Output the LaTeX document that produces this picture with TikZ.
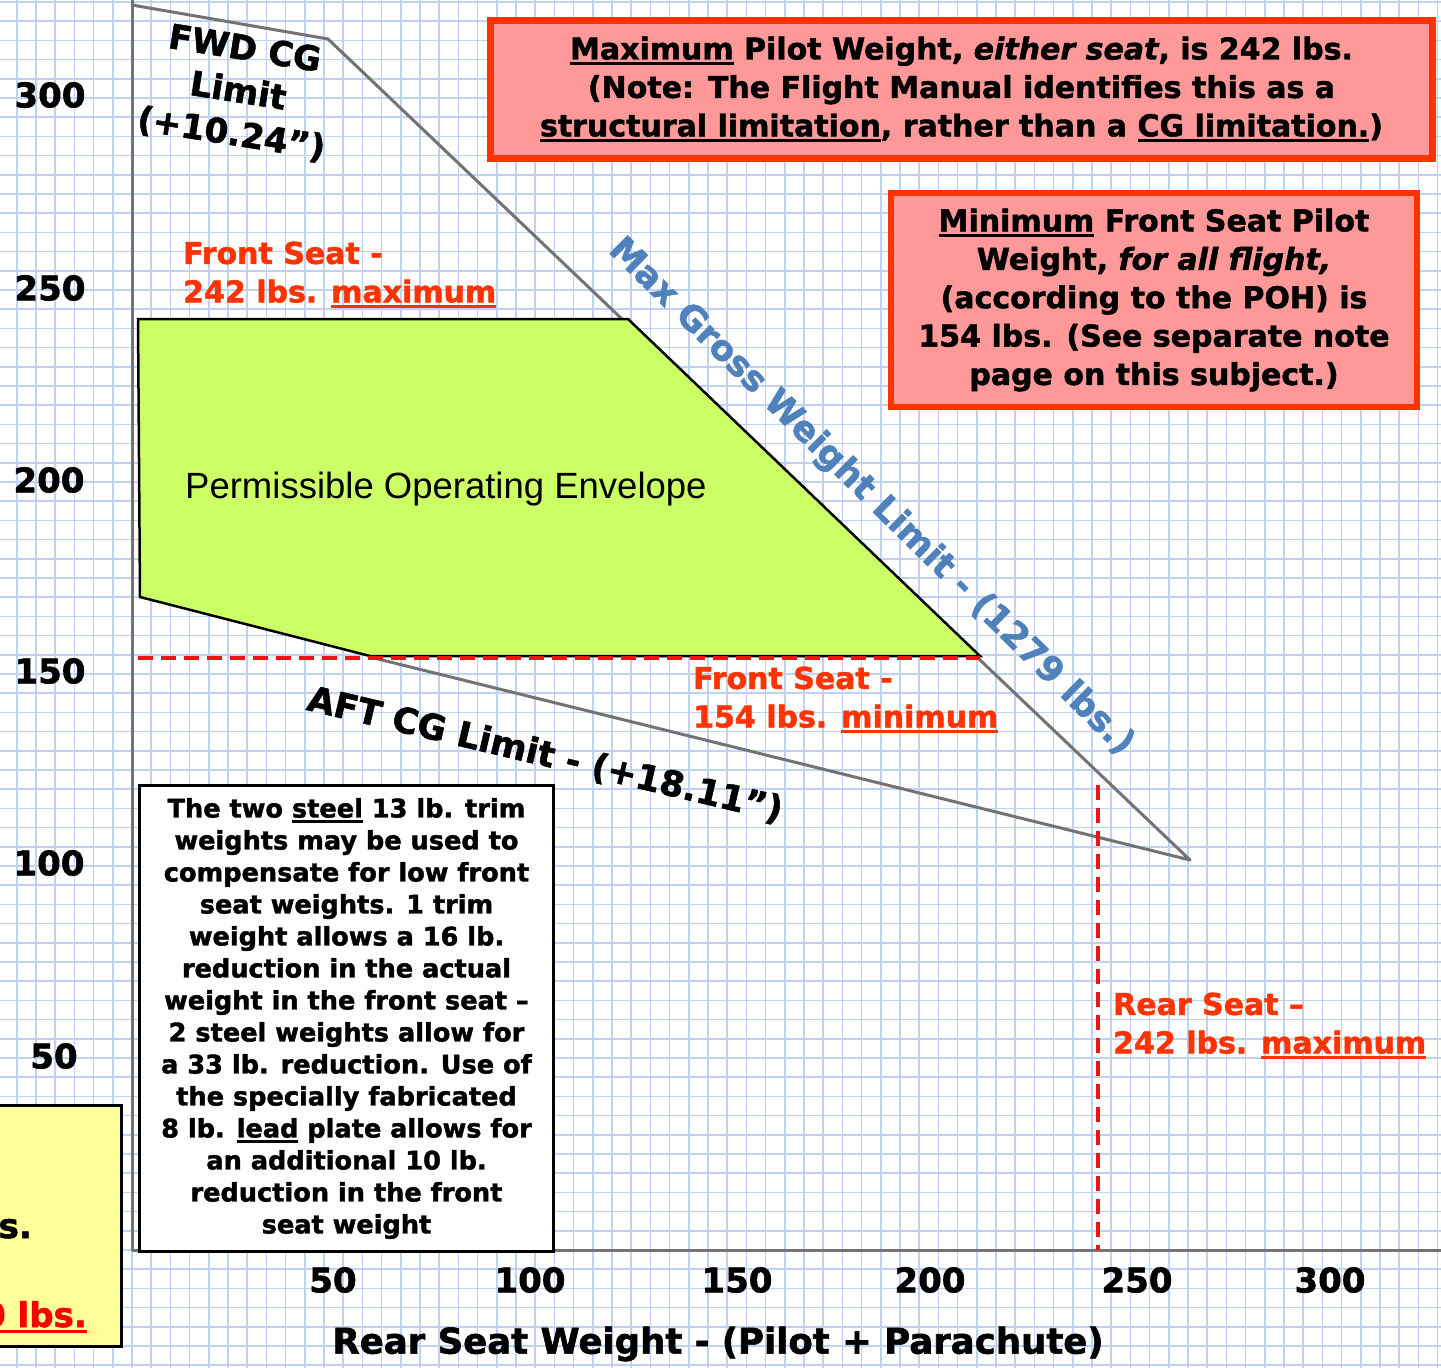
\documentclass[tikz,border=0pt]{standalone}
\usepackage{fontspec}
\setmainfont{DejaVu Sans}[BoldFeatures={FakeBold=1.6}, BoldItalicFeatures={FakeBold=1.6}]
\newfontfamily\arialf{Liberation Sans}
\definecolor{gridc}{RGB}{193,210,240}
\definecolor{pencil}{RGB}{115,115,118}
\definecolor{labred}{RGB}{255,51,0}
\definecolor{dashred}{RGB}{238,20,20}
\definecolor{pinkc}{RGB}{255,153,153}
\definecolor{greenc}{RGB}{204,255,102}
\definecolor{yellowc}{RGB}{255,255,153}
\definecolor{bluec}{RGB}{79,129,189}
\newcommand\myul[1]{\leavevmode\setbox0\hbox{#1}\rlap{\copy0}\vrule height -3pt depth 6pt width \wd0\relax}
\tikzset{
  gridline/.style={draw=gridc, line width=1.6pt},
  pencilline/.style={draw=pencil, line width=3pt, line cap=round, line join=round},
  reddash/.style={draw=dashred, line width=3.4pt, dash pattern=on 15pt off 8pt},
  axlab/.style={font=\bfseries\fontsize{34}{40}\selectfont, inner sep=0pt},
  redlab/.style={font=\bfseries\fontsize{30}{38.5}\selectfont, text=labred, align=left, inner sep=0pt},
  limitlab/.style={font=\bfseries\fontsize{34}{43}\selectfont, inner sep=0pt, align=center},
  notebox/.style={draw=labred, fill=pinkc, line width=6.5pt, inner sep=0pt, align=center, font=\bfseries\fontsize{30}{38.4}\selectfont},
  whitebox/.style={draw=black, fill=white, line width=3pt, inner sep=0pt, align=center, font=\bfseries\fontsize{25.6}{32}\selectfont},
}
\begin{document}
\begin{tikzpicture}[x=1pt,y=-1pt]
\clip (0,0) rectangle (1441,1368);
\fill[white] (0,0) rectangle (1441,1368);
% graph paper
\foreach \i in {-7,...,68} \draw[gridline] ({132+19.2*\i},0) -- ({132+19.2*\i},1368);
\foreach \j in {-6,...,65} \draw[gridline] (0,{1250-19.2*\j}) -- (1441,{1250-19.2*\j});
% key points
\coordinate (axtop) at (132,0);
\coordinate (origin) at (132,1250);
\coordinate (axright) at (1441,1250);
\coordinate (fwdtop) at (132,5);
\coordinate (fwdkink) at (328,39);
\coordinate (tip) at (1190,860);
\coordinate (aftmid) at (370,657);
% pencil lines
\draw[pencilline] (axtop) -- (origin) -- (axright);
\draw[pencilline] (fwdtop) -- (fwdkink) -- (tip) -- (aftmid);
% envelope
\coordinate (envA) at (138,319);
\coordinate (envB) at (628,319);
\coordinate (envC) at (980,656);
\coordinate (envD) at (370,656);
\coordinate (envE) at (140,597);
\draw[fill=greenc, line width=2.5pt, line join=miter] (envA) -- (envB) -- (envC) -- (envD) -- (envE) -- cycle;
\node[font=\arialf\fontsize{36.5}{40}\selectfont, anchor=west, inner sep=0pt] (envlab) at (185,489) {Permissible Operating Envelope};
% dashed red lines
\coordinate (dashL) at (138,658);
\coordinate (dashR) at (980,658);
\coordinate (vdashT) at (1098,785);
\coordinate (vdashB) at (1098,1250);
\draw[reddash] (dashL) -- (dashR);
\draw[reddash] (vdashT) -- (vdashB);
% axis labels
\node[axlab] (y300) at (50,95) {300};
\node[axlab] (y250) at (50,288) {250};
\node[axlab] (y200) at (49,480) {200};
\node[axlab] (y150) at (50,671) {150};
\node[axlab] (y100) at (49,863) {100};
\node[axlab] (y50) at (54,1056) {50};
\node[axlab] (x50) at (333,1280) {50};
\node[axlab] (x100) at (530,1280) {100};
\node[axlab] (x150) at (737,1280) {150};
\node[axlab] (x200) at (930,1280) {200};
\node[axlab] (x250) at (1137,1280) {250};
\node[axlab] (x300) at (1330,1280) {300};
\node[axlab, font=\bfseries\fontsize{35.5}{40}\selectfont] (xtitle) at (718,1344) {Rear Seat Weight - (Pilot + Parachute)};
% limit labels
\node[limitlab, rotate=-9] (fwdlab) at (238,92) {FWD CG\\Limit\\(+10.24”)};
\node[limitlab, font=\bfseries\fontsize{35}{43}\selectfont, rotate=-13.3] (aftlab) at (545,755) {AFT CG Limit - (+18.11”)};
\node[limitlab, text=bluec, font=\bfseries\fontsize{35}{40}\selectfont, rotate=-44.5] (maxlab) at (871,497) {Max Gross Weight Limit - (1279 lbs.)};
% red labels
\node[redlab, anchor=west] (front242) at (183,275) {Front Seat -\\242 lbs. \myul{maximum}};
\node[redlab, anchor=west] (front154) at (693,700) {Front Seat -\\154 lbs. \myul{minimum}};
\node[redlab, anchor=west] (rear242) at (1113,1026) {Rear Seat –\\242 lbs. \myul{maximum}};
% note boxes
\node[notebox, minimum width=942pt, minimum height=138pt] (maxbox) at (961.5,89.5)
  {\myul{Maximum} Pilot Weight, \textit{either seat}, is 242 lbs.\\(Note: The Flight Manual identifies this as a\\\myul{structural limitation}, rather than a \myul{CG limitation.})};
\node[notebox, minimum width=526pt, minimum height=214pt] (minbox) at (1154,300)
  {\myul{Minimum} Front Seat Pilot\\Weight, \textit{for all flight,}\\(according to the POH) is\\154 lbs. (See separate note\\page on this subject.)};
\node[whitebox, minimum width=414pt, minimum height=466pt] (trimbox) at (346.5,1018.5)
  {The two \myul{steel} 13 lb. trim\\weights may be used to\\compensate for low front\\seat weights. 1 trim\\weight allows a 16 lb.\\reduction in the actual\\weight in the front seat –\\2 steel weights allow for\\a 33 lb. reduction. Use of\\the specially fabricated\\8 lb. \myul{lead} plate allows for\\an additional 10 lb.\\reduction in the front\\seat weight};
% partial yellow box
\node[draw=black, fill=yellowc, line width=3pt, minimum width=142pt, minimum height=241pt, inner sep=0pt] (yelbox) at (50.5,1226) {};
\node[font=\bfseries\fontsize{34}{40}\selectfont, anchor=base east, inner sep=0pt] (yeltxt) at (32,1238) {s.};
\node[font=\bfseries\fontsize{34}{40}\selectfont, text=red, anchor=base east, inner sep=0pt] (yelred) at (87,1327) {\myul{0 lbs.}};
\end{tikzpicture}
\end{document}
